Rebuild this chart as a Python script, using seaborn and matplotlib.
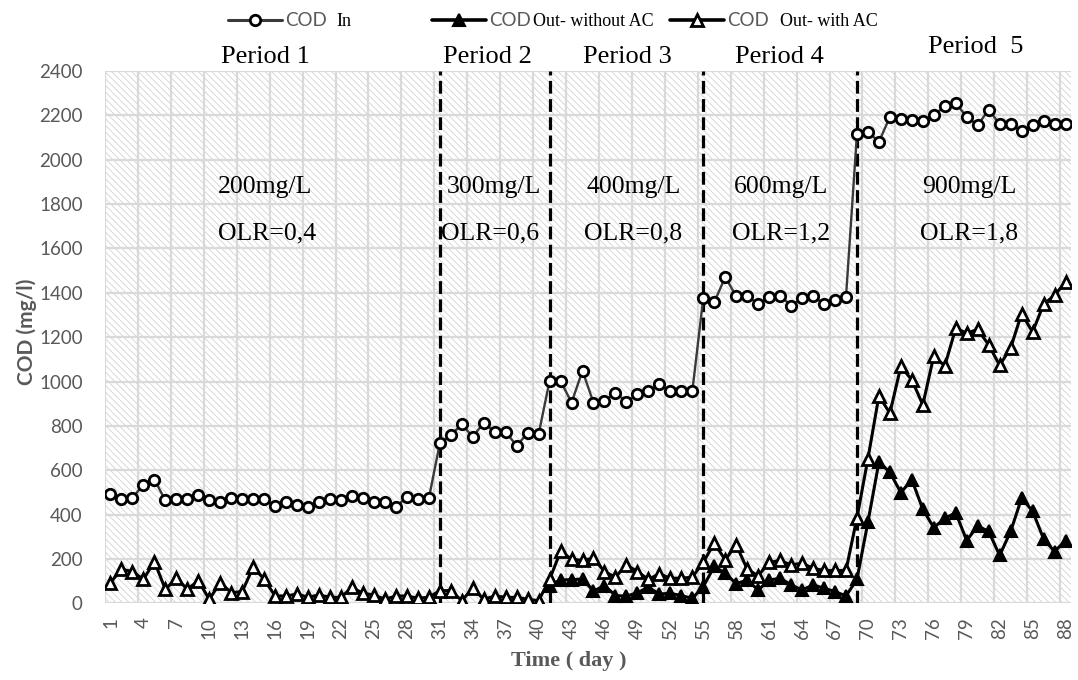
import numpy as np
import pandas as pd
import matplotlib
matplotlib.use("Agg")
import matplotlib.pyplot as plt
from matplotlib.lines import Line2D
from matplotlib.patches import Rectangle
import seaborn as sns

# ---------------- data ----------------
days = list(range(1, 89))

cod_in = [495, 470, 476, 535, 558, 464, 469, 469, 490, 464,
          458, 476, 470, 470, 470, 437, 455, 442, 434, 455,
          470, 466, 482, 473, 455, 458, 434, 480, 470, 473,
          721, 758, 807, 751, 814, 774, 774, 709, 769, 762,
          1003, 1003, 905, 1048, 905, 912, 950, 908, 943, 955, 988, 955, 955, 955,
          1376, 1357, 1471, 1385, 1385, 1350, 1380, 1387, 1342, 1376, 1385, 1350, 1369, 1380,
          2115, 2127, 2080, 2193, 2185, 2180, 2175, 2200, 2241, 2255,
          2193, 2155, 2226, 2160, 2160, 2130, 2155, 2175, 2160, 2160]

cod_out_with_ac = [93, 154, 143, 108, 188, 63, 113, 63, 102, 18,
                   93, 48, 53, 163, 108, 33, 33, 42, 27, 38,
                   27, 27, 72, 45, 38, 18, 33, 33, 23, 27,
                   57, 57, 12, 68, 18, 33, 27, 27, 18, 12,
                   108, 234, 199, 193, 204, 143, 118, 173, 143, 108, 133, 113, 113, 118,
                   185, 271, 196, 264, 154, 124, 184, 193, 173, 181, 158, 148, 148, 148,
                   385, 652, 935, 857, 1068, 1007, 895, 1115, 1070, 1240,
                   1218, 1235, 1165, 1073, 1151, 1306, 1223, 1348, 1389, 1448]

without_ac_days = list(range(41, 89))
cod_out_without_ac = [80, 106, 106, 110, 55, 80, 35, 32, 48, 72, 42, 45, 35, 22,
                      75, 166, 136, 88, 105, 60, 105, 113, 83, 60, 83, 68, 53, 33,
                      108, 366, 636, 591, 499, 557, 424, 341, 383, 408,
                      283, 349, 324, 216, 324, 474, 416, 291, 233, 283]

period_boundaries = [31, 41, 55, 69]
period_names = ["Period 1", "Period 2", "Period 3", "Period 4", "Period  5"]
period_label_x = [15.15, 35.3, 48.1, 61.9, 79.8]
conc_labels = ["200mg/L", "300mg/L", "400mg/L", "600mg/L", "900mg/L"]
olr_labels = ["OLR=0,4", "OLR=0,6", "OLR=0,8", "OLR=1,2", "OLR=1,8"]
conc_x = [15.1, 35.9, 48.7, 62.1, 79.2]
olr_x = [15.3, 35.6, 48.6, 62.1, 79.2]

xtick_labels = [str(d) for d in range(1, 89, 3)]
yticks = list(range(0, 2401, 200))

df_in = pd.DataFrame({"day": days, "cod": cod_in})
df_with = pd.DataFrame({"day": days, "cod": cod_out_with_ac})
df_without = pd.DataFrame({"day": without_ac_days, "cod": cod_out_without_ac})

# ---------------- style ----------------
sns.set_style("white")
plt.rcParams["font.family"] = ["DejaVu Sans"]
plt.rcParams["hatch.linewidth"] = 0.6

SERIF = "Liberation Serif"
SANS = "Lato"
TICK_GRAY = "#595959"
GRID = "#d9d9d9"

W, H = 1078, 680
fig = plt.figure(figsize=(W / 100, H / 100), dpi=100)
ax_left, ax_right, ax_top, ax_bottom = 105, 1071, 71, 603.3
ax = fig.add_axes([ax_left / W, (H - ax_bottom) / H,
                   (ax_right - ax_left) / W, (ax_bottom - ax_top) / H])

# hatched background
ax.add_patch(Rectangle((0, 0), 1, 1, transform=ax.transAxes, facecolor="white",
                       edgecolor="#d2d2d2", hatch="\\\\\\\\\\", lw=0, zorder=0))

# series
sns.lineplot(data=df_in, x="day", y="cod", ax=ax, color="#3a3a3a", lw=1.7,
             marker="o", markersize=7.5, markerfacecolor="white",
             markeredgecolor="black", markeredgewidth=2.0, zorder=4)
sns.lineplot(data=df_without, x="day", y="cod", ax=ax, color="black", lw=2.2,
             marker="^", markersize=8.5, markerfacecolor="black",
             markeredgecolor="black", markeredgewidth=1.5, zorder=5)
sns.lineplot(data=df_with, x="day", y="cod", ax=ax, color="black", lw=2.2,
             marker="^", markersize=8, markerfacecolor="white",
             markeredgecolor="black", markeredgewidth=2.0, zorder=6)

# period separators
for b in period_boundaries:
    ax.axvline(b, color="black", lw=2.3, ls=(0, (4, 1.7)), zorder=3)

# axes setup
ax.set_xlim(0.5, 88.5)
ax.set_ylim(0, 2400)
ax.set_xticks(list(range(1, 89, 3)))
ax.set_xticklabels(xtick_labels, rotation=90, fontfamily=SANS, fontsize=13.5,
                   color=TICK_GRAY)
ax.set_yticks(yticks)
ax.set_yticklabels([str(v) for v in yticks], fontfamily=SANS, fontsize=13.5,
                   color=TICK_GRAY)
ax.set_xticks([0.5 + 3 * k for k in range(30)], minor=True)
ax.tick_params(axis="x", which="both", length=0, pad=10)
ax.tick_params(axis="y", length=0, pad=16)
ax.grid(False)
ax.grid(True, which="minor", axis="x", color=GRID, lw=1.6)
ax.grid(True, which="major", axis="y", color=GRID, lw=1.6)
ax.set_axisbelow(True)
for s in ax.spines.values():
    s.set_visible(False)

ax.set_xlabel("Time ( day )", fontfamily=SERIF, fontsize=16, fontweight="bold",
              color=TICK_GRAY)
ax.xaxis.set_label_coords((569 - ax_left) / (ax_right - ax_left),
                          (ax_bottom - 651) / (ax_bottom - ax_top))
ax.set_ylabel("COD (mg/l)", fontfamily=SANS, fontsize=15, fontweight="bold",
              color=TICK_GRAY)
ax.yaxis.set_label_coords((37 - ax_left) / (ax_right - ax_left), 0.51)

# period titles and annotations
xtr = ax.get_xaxis_transform()
for i, name in enumerate(period_names):
    yy = 1.045 if i == 4 else 1.026
    ax.text(period_label_x[i], yy, name, transform=xtr, ha="center", va="center",
            fontfamily=SERIF, fontsize=19, color="black")
for i in range(5):
    ax.text(conc_x[i], 1875, conc_labels[i], ha="center", va="center",
            fontfamily=SERIF, fontsize=18.5, color="black", zorder=7)
    ax.text(olr_x[i], 1668, olr_labels[i], ha="center", va="center",
            fontfamily=SERIF, fontsize=18.5, color="black", zorder=7)

# legend (three single-entry legends with mixed fonts)
h_in = Line2D([], [], color="#3a3a3a", lw=2.2, marker="o", ms=7.5,
              mfc="white", mec="black", mew=2.0)
h_without = Line2D([], [], color="black", lw=2.6, marker="^", ms=8.5,
                   mfc="black", mec="black", mew=1.5)
h_with = Line2D([], [], color="black", lw=2.6, marker="^", ms=8,
                mfc="white", mec="black", mew=2.0)
legend_items = [(h_in, 228, "In", 9), (h_without, 432, "Out- without AC", 2),
                (h_with, 670, "Out- with AC", 11)]
ly = 1 - 21 / H
legs = []
for handle, x0, serif_txt, gap in legend_items:
    leg = fig.legend([handle], ["COD"], loc="center left",
                     bbox_to_anchor=(x0 / W, ly), frameon=False, borderpad=0,
                     borderaxespad=0, handlelength=2.9, handletextpad=0.15,
                     prop={"family": SANS, "size": 13.5}, labelcolor=TICK_GRAY)
    legs.append((leg, serif_txt, gap))

fig.canvas.draw()
renderer = fig.canvas.get_renderer()
for leg, serif_txt, gap in legs:
    bb = leg.get_texts()[0].get_window_extent(renderer)
    fig.text((bb.x1 + gap) / W, ly, serif_txt, ha="left", va="center",
             fontfamily=SERIF, fontsize=13, color="black")

fig.savefig("out.png", dpi=100)
